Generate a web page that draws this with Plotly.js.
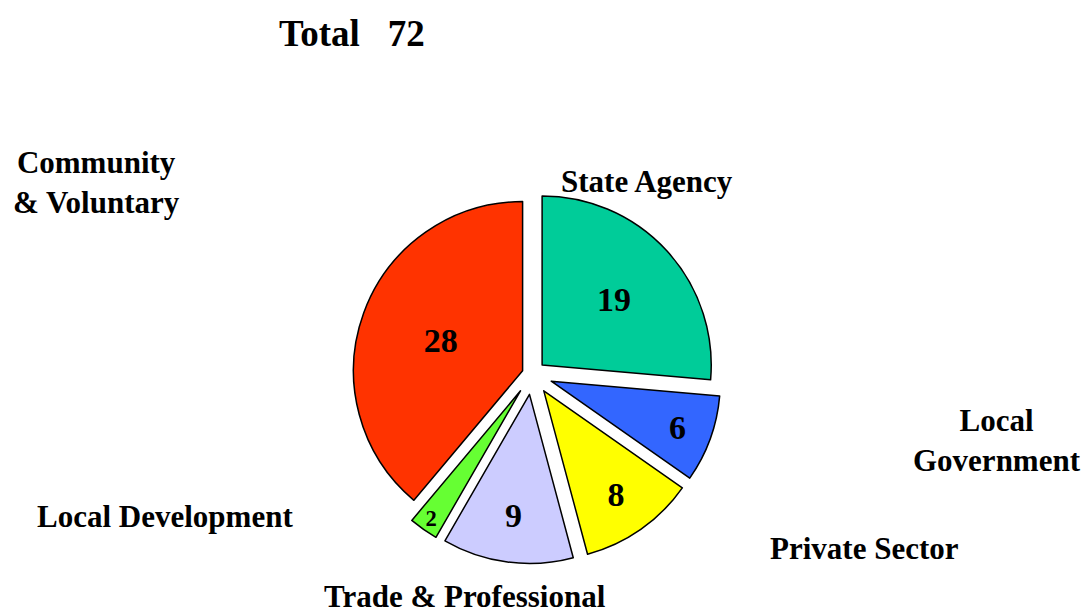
<!DOCTYPE html>
<html>
<head>
<meta charset="utf-8">
<script src="https://cdn.plot.ly/plotly-3.0.1.min.js"></script>
<style>html,body{margin:0;padding:0;background:#fff;}#chart{width:1086px;height:616px;}</style>
</head>
<body>
<div id="chart"></div>
<script>
const categories = ["State Agency", "Local Government", "Private Sector", "Trade & Professional", "Local Development", "Community & Voluntary"];
const labelLines = ["State Agency", "Local<br>Government", "Private Sector", "Trade & Professional", "Local Development", "Community<br>& Voluntary"];
const values = [19, 6, 8, 9, 2, 28];
const colors = ["#00CC99", "#3366FF", "#FFFF00", "#CCCCFF", "#66FF33", "#FF3300"];
const total = values.reduce((a, b) => a + b, 0);

const font = "'Liberation Serif', 'Times New Roman', serif";
const labelPos = [
  [0.596, 0.706], [0.918, 0.285], [0.796, 0.110],
  [0.428, 0.032], [0.152, 0.162], [0.089, 0.704]
];

const trace = {
  type: "pie",
  labels: categories,
  values: values,
  sort: false,
  direction: "clockwise",
  rotation: 0,
  pull: [0.08, 0.12, 0.12, 0.12, 0.12, 0.06],
  marker: {colors: colors, line: {color: "#000000", width: 1.5}},
  textinfo: "value",
  textposition: "inside",
  insidetextorientation: "horizontal",
  textfont: {family: font, size: 34, color: "#000000", weight: "bold"},
  hoverinfo: "label+value",
  domain: {x: [0.29, 0.69], y: [0.085, 0.70]},
  showlegend: false
};

const annotations = categories.map((c, i) => ({
  text: "<b>" + labelLines[i] + "</b>",
  x: labelPos[i][0], y: labelPos[i][1], xref: "paper", yref: "paper",
  xanchor: "center", yanchor: "middle", showarrow: false,
  font: {family: font, size: 31, color: "#000000"}
}));
annotations.push({
  text: "<b>Total   " + total + "</b>",
  x: 0.324, y: 0.946, xref: "paper", yref: "paper",
  xanchor: "center", yanchor: "middle", showarrow: false,
  font: {family: font, size: 37, color: "#000000"}
});

const layout = {
  width: 1086, height: 616,
  margin: {l: 0, r: 0, t: 0, b: 0},
  paper_bgcolor: "#ffffff",
  annotations: annotations,
  showlegend: false
};

Plotly.newPlot("chart", [trace], layout, {displayModeBar: false, staticPlot: true});
</script>
</body>
</html>
